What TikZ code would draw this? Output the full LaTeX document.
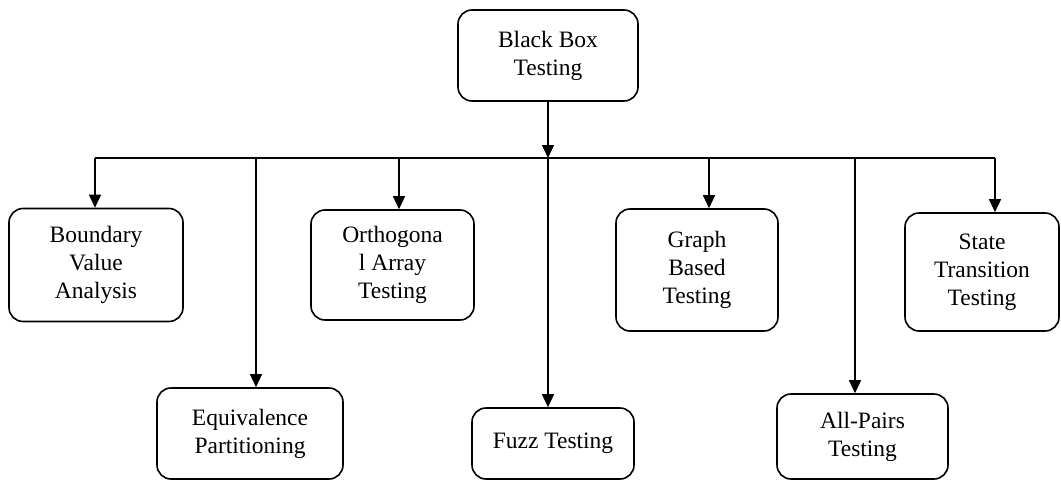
\documentclass[tikz,border=0pt]{standalone}
\usepackage{fontspec}
\setmainfont{Liberation Serif}
\usetikzlibrary{arrows.meta}
\begin{document}
\begin{tikzpicture}[x=1pt,y=-1pt,
  box/.style={draw, line width=1.6pt, rounded corners=14pt, align=center,
    font=\fontsize{23.5}{28}\selectfont, inner sep=0pt},
  arr/.style={-{Triangle[length=13pt,width=12pt]}, line width=1.4pt},
  conn/.style={line width=1.4pt}]
\useasboundingbox (0,0) rectangle (1061,482);
% boxes
\node[box, minimum width=180pt, minimum height=91pt] (top) at (548,55.5) {Black Box\\Testing};
\node[box, minimum width=174pt, minimum height=113pt] (bva) at (96,265) {Boundary\\Value\\Analysis};
\node[box, minimum width=163pt, minimum height=110pt] (ort) at (392.5,265) {Orthogona\\l Array\\Testing};
\node[box, minimum width=162pt, minimum height=122pt] (gbt) at (697,270) {Graph\\Based\\Testing};
\node[box, minimum width=154pt, minimum height=118pt] (stt) at (982,272) {State\\Transition\\Testing};
\node[box, minimum width=186pt, minimum height=91pt] (eqp) at (250,433.5) {Equivalence\\Partitioning};
\node[box, minimum width=162pt, minimum height=71pt] (fuz) at (553,443.5) {Fuzz Testing};
\node[box, minimum width=171pt, minimum height=85pt] (apt) at (862.5,436.5) {All-Pairs\\Testing};
% junction coordinates on the bus line
\coordinate (c0) at (548,158);
\coordinate (c1) at (95,158);
\coordinate (c2) at (256,158);
\coordinate (c3) at (399,158);
\coordinate (c4) at (709,158);
\coordinate (c5) at (855,158);
\coordinate (c6) at (995,158);
% bus
\draw[conn] (c1) -- (c6);
\draw[arr] (top.south) -- (c0);
\draw[arr] (c1) -- (c1 |- bva.north);
\draw[arr] (c2) -- (c2 |- eqp.north);
\draw[arr] (c3) -- (c3 |- ort.north);
\draw[arr] (c0) -- (c0 |- fuz.north);
\draw[arr] (c4) -- (c4 |- gbt.north);
\draw[arr] (c5) -- (c5 |- apt.north);
\draw[arr] (c6) -- (c6 |- stt.north);
\end{tikzpicture}
\end{document}
